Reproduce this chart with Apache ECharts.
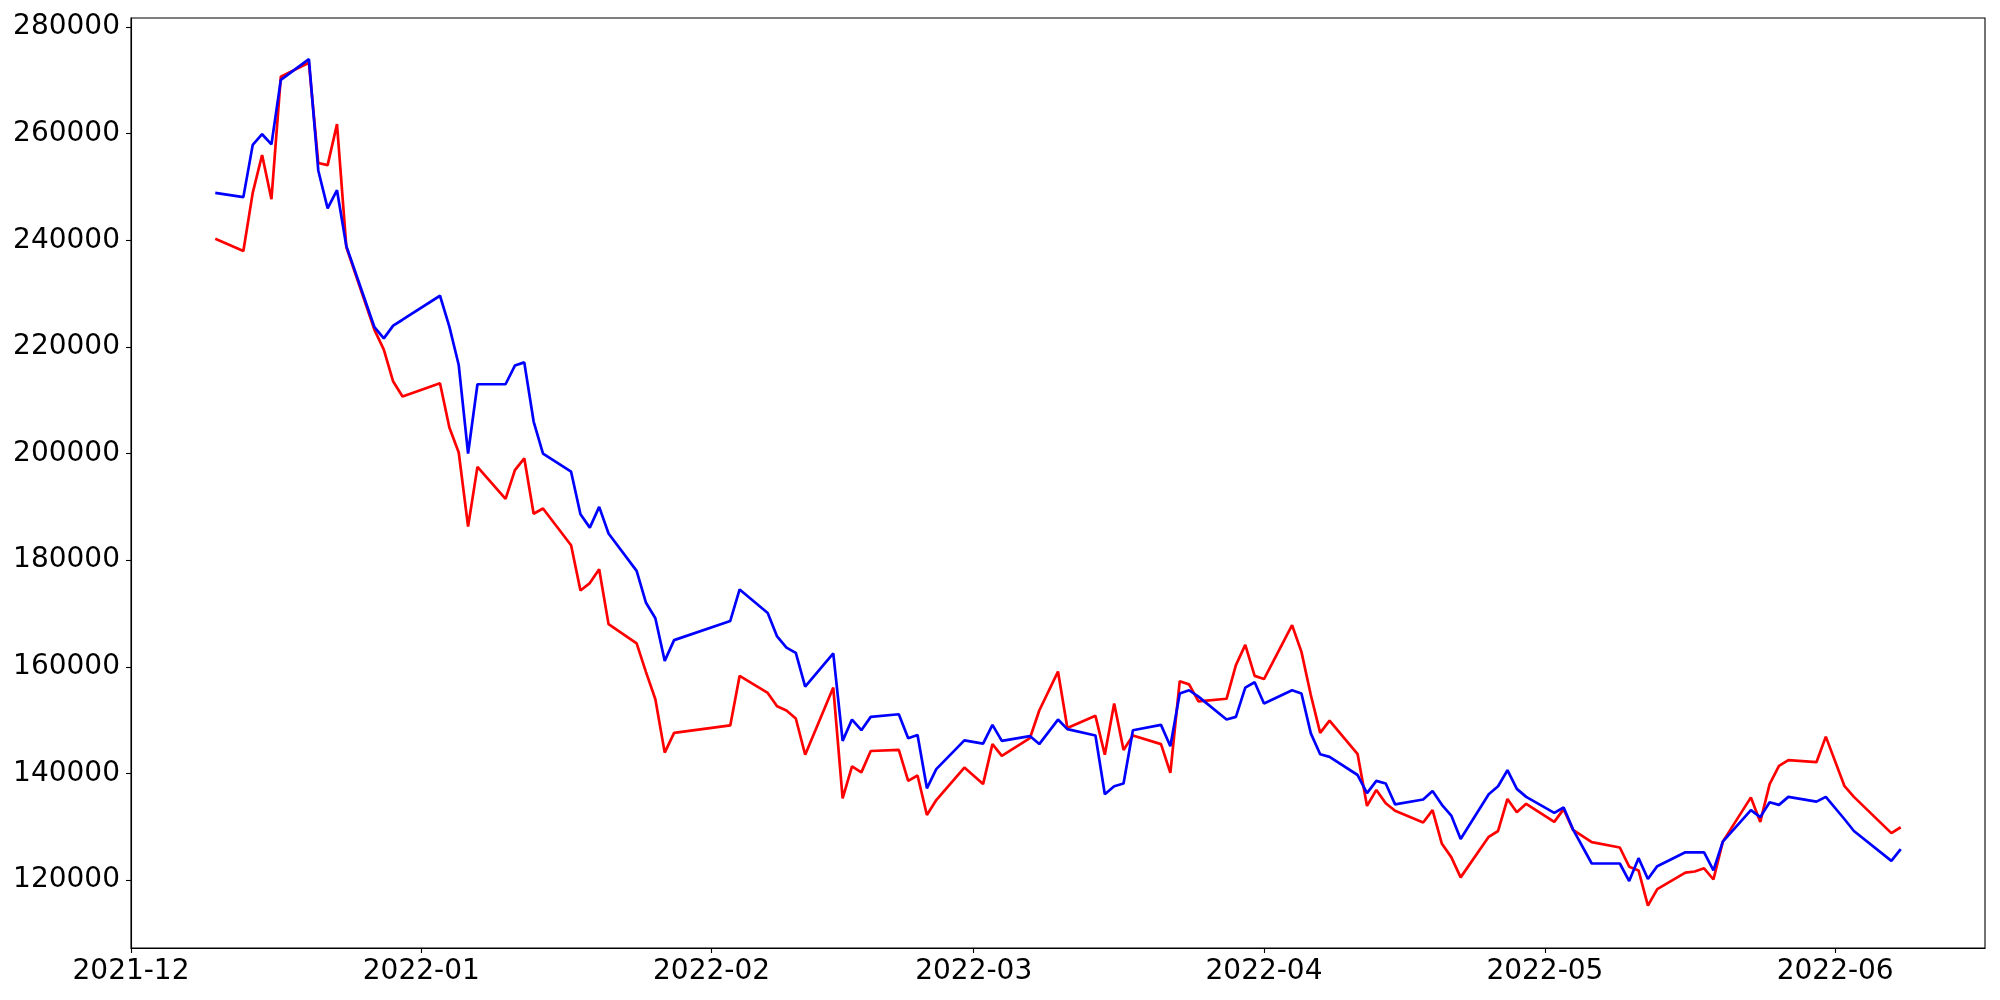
<!DOCTYPE html>
<html>
<head>
<meta charset="utf-8">
<script src="https://cdn.jsdelivr.net/npm/echarts@6/dist/echarts.min.js"></script>
<style>html,body{margin:0;padding:0;background:#fff}#c{width:2000px;height:1000px}</style>
</head>
<body>
<div id="c"></div>
<script>
const dates = [
'2021-12-10','2021-12-13','2021-12-14','2021-12-15','2021-12-16','2021-12-17','2021-12-20','2021-12-21','2021-12-22','2021-12-23','2021-12-24','2021-12-27','2021-12-28','2021-12-29','2021-12-30',
'2022-01-03','2022-01-04','2022-01-05','2022-01-06','2022-01-07','2022-01-10','2022-01-11','2022-01-12','2022-01-13','2022-01-14','2022-01-17','2022-01-18','2022-01-19','2022-01-20','2022-01-21','2022-01-24','2022-01-25','2022-01-26','2022-01-27','2022-01-28',
'2022-02-03','2022-02-04','2022-02-07','2022-02-08','2022-02-09','2022-02-10','2022-02-11','2022-02-14','2022-02-15','2022-02-16','2022-02-17','2022-02-18','2022-02-21','2022-02-22','2022-02-23','2022-02-24','2022-02-25','2022-02-28',
'2022-03-02','2022-03-03','2022-03-04','2022-03-07','2022-03-08','2022-03-10','2022-03-11','2022-03-14','2022-03-15','2022-03-16','2022-03-17','2022-03-18','2022-03-21','2022-03-22','2022-03-23','2022-03-24','2022-03-25','2022-03-28','2022-03-29','2022-03-30','2022-03-31',
'2022-04-01','2022-04-04','2022-04-05','2022-04-06','2022-04-07','2022-04-08','2022-04-11','2022-04-12','2022-04-13','2022-04-14','2022-04-15','2022-04-18','2022-04-19','2022-04-20','2022-04-21','2022-04-22','2022-04-25','2022-04-26','2022-04-27','2022-04-28','2022-04-29',
'2022-05-02','2022-05-03','2022-05-04','2022-05-06','2022-05-09','2022-05-10','2022-05-11','2022-05-12','2022-05-13','2022-05-16','2022-05-17','2022-05-18','2022-05-19','2022-05-20','2022-05-23','2022-05-24','2022-05-25','2022-05-26','2022-05-27','2022-05-30','2022-05-31',
'2022-06-02','2022-06-03','2022-06-07','2022-06-08'
];
const blueValues = [
248900,248100,257900,259900,258000,270100,274000,253100,246000,249400,238900,223700,221600,224000,225100,
229600,223800,216600,200000,213000,213000,216500,217100,206000,200000,196600,188600,186100,190000,185000,178000,172000,169100,161100,165000,
168600,174500,170100,165700,163600,162600,156300,162500,146100,150100,148100,150600,151100,146600,147200,137200,140800,146200,
145600,149100,146100,147000,145500,150100,148300,147100,136100,137600,138100,148100,149100,145100,155000,155600,154400,150100,150600,156100,157100,
153100,155600,155000,147500,143600,143100,139700,136300,138600,138100,134200,135100,136700,134100,132100,127700,136100,137600,140600,137100,135600,
132600,133600,129500,123100,123100,119800,124100,120200,122600,125200,125200,125200,121800,127200,133100,131800,134600,134100,135600,134700,135600,
131400,129200,123600,125800
];
const redValues = [
240300,238000,248900,256000,247700,270700,273300,254500,254100,261800,238700,223200,219500,213500,210700,
213200,204900,200200,186300,197500,191500,196900,199100,188700,189700,182800,174300,175700,178300,168000,164400,159000,153900,143900,147600,
149000,158300,155100,152600,151800,150300,143500,156100,135300,141300,140200,144200,144400,138600,139600,132200,135000,141100,
138000,145500,143300,146600,151800,159100,148500,150800,143500,153100,144400,147100,145500,140100,157300,156700,153500,154000,160300,164100,158300,
157700,167800,162800,154700,147600,149900,143600,133900,136900,134400,133000,130800,133100,126800,124300,120500,128100,129200,135200,132700,134300,
130900,133300,129400,127100,126100,122500,121800,115200,118300,121400,121600,122200,120100,127200,135500,130900,138000,141400,142500,142100,146900,
137600,135600,128800,129900
];
const yTicks = [120000,140000,160000,180000,200000,220000,240000,260000,280000];
const xTickLabels = ['2021-12','2022-01','2022-02','2022-03','2022-04','2022-05','2022-06'];
const xRange = ['2021-12-01','2022-06-17'];
const yRange = [107250, 281700];

function ts(s){const p=s.split('-').map(Number);return Date.UTC(p[0],p[1]-1,p[2]||1);}
const xTicks = xTickLabels.map(ts);
function pad(n){return n<10?'0'+n:''+n;}
function fmtMonth(v){const d=new Date(v);return d.getUTCFullYear()+'-'+pad(d.getUTCMonth()+1);}

const chart = echarts.init(document.getElementById('c'), null, {renderer:'canvas', width:2000, height:1000});
const font = {fontFamily:'DejaVu Sans', fontSize:28, color:'#000'};
chart.setOption({
  animation:false,
  backgroundColor:'#fff',
  grid:{left:131, top:18, width:1854, height:930, show:true, borderColor:'#000', borderWidth:1.1, containLabel:false},
  xAxis:{
    type:'value', min:ts(xRange[0]), max:ts(xRange[1]),
    axisLine:{show:true, lineStyle:{color:'#000', width:1.1}},
    axisTick:{show:true, length:5, lineStyle:{color:'#000', width:1.1}, customValues:xTicks},
    axisLabel:Object.assign({margin:10, customValues:xTicks, formatter:fmtMonth}, font),
    splitLine:{show:false}
  },
  yAxis:{
    type:'value', min:yRange[0], max:yRange[1],
    axisLine:{show:true, lineStyle:{color:'#000', width:1.1}},
    axisTick:{show:true, length:5, lineStyle:{color:'#000', width:1.1}, customValues:yTicks},
    axisLabel:Object.assign({margin:11, customValues:yTicks, formatter:function(v){return String(v);}}, font),
    splitLine:{show:false}
  },
  series:[
    {type:'line', name:'red', data:dates.map((d,i)=>[ts(d), redValues[i]]), showSymbol:false, symbol:'none', lineStyle:{color:'#ff0000', width:2.7}, itemStyle:{color:'#ff0000'}},
    {type:'line', name:'blue', data:dates.map((d,i)=>[ts(d), blueValues[i]]), showSymbol:false, symbol:'none', lineStyle:{color:'#0000ff', width:2.7}, itemStyle:{color:'#0000ff'}}
  ]
});
</script>
</body>
</html>
